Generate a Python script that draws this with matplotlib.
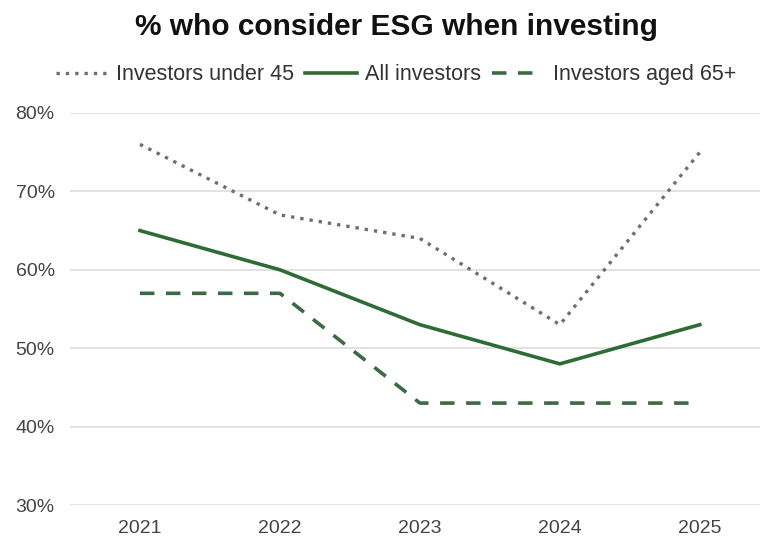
import matplotlib.pyplot as plt
import numpy as np

years = ["2021", "2022", "2023", "2024", "2025"]
under_45 = [76, 67, 64, 53, 75]
all_investors = [65, 60, 53, 48, 53]
aged_65 = [57, 57, 43, 43, 43]
y_ticks = [30, 40, 50, 60, 70, 80]

plt.rcParams["font.family"] = ["Liberation Sans", "DejaVu Sans"]

fig = plt.figure(figsize=(7.6, 5.39), dpi=100)
ax = fig.add_axes([70 / 760, 1 - 505 / 539, 690 / 760, (505 - 113) / 539])

x = np.arange(len(years))
ax.plot(x, under_45, color="#6f6f6f", lw=2.4, linestyle=(0, (1, 1.8)),
        label="Investors under 45")
ax.plot(x, all_investors, color="#2f6b35", lw=2.6, label="All investors")
ax.plot(x, aged_65, color="#3c6a45", lw=2.6, linestyle=(0, (4, 3.2)),
        label="Investors aged 65+")

ax.set_xlim(-0.5, 4.43)
ax.set_ylim(30, 80)
ax.set_yticks(y_ticks)
ax.set_yticklabels([f"{v}%" for v in y_ticks])
ax.set_xticks(x)
ax.set_xticklabels(years)
ax.grid(axis="y", color="#e2e2e2", lw=1.4)
ax.set_axisbelow(True)
for s in ax.spines.values():
    s.set_visible(False)
ax.tick_params(axis="both", length=0, labelsize=14, colors="#444444")
ax.tick_params(axis="y", pad=11)
ax.tick_params(axis="x", pad=11)

fig.text(0.521, 0.95, "% who consider ESG when investing", ha="center",
         va="center", fontsize=21.5, fontweight="bold", color="#111111")
fig.legend(loc="center", bbox_to_anchor=(0.521, 0.861), ncol=3, frameon=False,
           fontsize=15.5, handlelength=2.4, handletextpad=0.4,
           columnspacing=0.5, labelcolor="#333333")

fig.savefig("out.png", dpi=100)
